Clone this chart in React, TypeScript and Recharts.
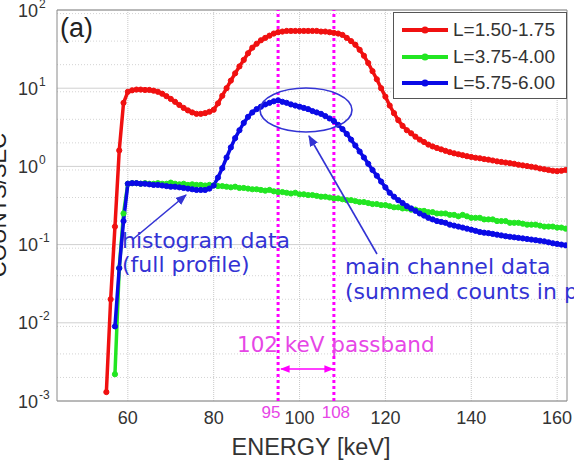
import React from 'react';
import {
  CartesianGrid,
  Legend,
  Line,
  LineChart,
  ReferenceArea,
  ReferenceLine,
  XAxis,
  YAxis,
} from 'recharts';

document.body.style.margin = '0';

const RED = '#f01010';
const GREEN = '#22e622';
const BLUE = '#0a0ae6';
const MAGENTA = '#ff00ff';
const MAGENTA_TEXT = '#e646e6';
const NOTE_BLUE = '#3333d4';
const INK = '#333';

// energy bins (keV)
const ENERGY = [
  55, 56, 57, 58, 59, 60, 61, 62, 63, 64,
  65, 66, 67, 68, 69, 70, 71, 72, 73, 74,
  75, 76, 77, 78, 79, 80, 81, 82, 83, 84,
  85, 86, 87, 88, 89, 90, 91, 92, 93, 94,
  95, 96, 97, 98, 99, 100, 101, 102, 103, 104,
  105, 106, 107, 108, 109, 110, 111, 112, 113, 114,
  115, 116, 117, 118, 119, 120, 121, 122, 123, 124,
  125, 126, 127, 128, 129, 130, 131, 132, 133, 134,
  135, 136, 137, 138, 139, 140, 141, 142, 143, 144,
  145, 146, 147, 148, 149, 150, 151, 152, 153, 154,
  155, 156, 157, 158, 159, 160, 161, 162,
];

// L=1.50-1.75
const L150 = [
  0.0013, 0.02, 0.17, 1.6, 6.5, 9.0, 9.4, 9.6, 9.6, 9.5,
  9.5, 9.3, 9.0, 8.5, 7.9, 7.3, 6.7, 6.1, 5.6, 5.2,
  4.9, 4.7, 4.7, 4.8, 5.0, 5.3, 6.4, 8.0, 10, 12.5,
  15.5, 19, 23, 28, 33, 37, 41, 44, 47, 50,
  52, 53, 54, 54, 54, 54, 54, 54, 54, 54,
  53, 53, 52, 51, 50, 48, 44, 40, 36, 31,
  26, 21, 16.5, 13, 10, 7.8, 6.0, 4.8, 3.9, 3.3,
  2.9, 2.65, 2.4, 2.2, 2.05, 1.9, 1.8, 1.72, 1.65, 1.58,
  1.52, 1.47, 1.43, 1.39, 1.35, 1.32, 1.29, 1.27, 1.24, 1.22,
  1.19, 1.16, 1.14, 1.12, 1.1, 1.08, 1.05, 1.03, 1.01, 0.99,
  0.97, 0.94, 0.92, 0.9, 0.88, 0.87, 0.88, 0.9,
];

// L=3.75-4.00
const L375 = [
  null, null, 0.0022, 0.05, 0.25, 0.6, 0.61, 0.61, 0.6, 0.61,
  0.6, 0.6, 0.61, 0.6, 0.6, 0.62, 0.6, 0.59, 0.6, 0.58,
  0.59, 0.58, 0.58, 0.57, 0.58, 0.57, 0.56, 0.56, 0.55, 0.54,
  0.55, 0.53, 0.53, 0.52, 0.51, 0.51, 0.5, 0.49, 0.5, 0.48,
  0.47, 0.47, 0.46, 0.45, 0.46, 0.44, 0.44, 0.43, 0.43, 0.42,
  0.41, 0.41, 0.4, 0.39, 0.39, 0.38, 0.37, 0.37, 0.36, 0.35,
  0.35, 0.34, 0.33, 0.33, 0.32, 0.32, 0.31, 0.3, 0.3, 0.29,
  0.29, 0.28, 0.28, 0.27, 0.27, 0.26, 0.26, 0.25, 0.25, 0.25,
  0.24, 0.24, 0.23, 0.24, 0.23, 0.22, 0.22, 0.22, 0.21, 0.21,
  0.21, 0.2, 0.2, 0.2, 0.19, 0.19, 0.19, 0.185, 0.18, 0.18,
  0.18, 0.175, 0.17, 0.17, 0.17, 0.165, 0.165, 0.16,
];

// L=5.75-6.00
const L575 = [
  null, null, 0.009, 0.05, 0.2, 0.6, 0.61, 0.61, 0.6, 0.6,
  0.59, 0.58, 0.58, 0.57, 0.56, 0.55, 0.55, 0.54, 0.53, 0.52,
  0.51, 0.5, 0.5, 0.5, 0.52, 0.57, 0.72, 0.95, 1.3, 1.75,
  2.3, 2.9, 3.6, 4.3, 4.9, 5.4, 5.8, 6.2, 6.5, 6.8,
  7.0, 6.7, 6.5, 6.2, 6.0, 5.8, 5.6, 5.4, 5.1, 4.9,
  4.7, 4.4, 4.1, 3.8, 3.4, 3.0, 2.6, 2.2, 1.85, 1.55,
  1.3, 1.08, 0.9, 0.76, 0.64, 0.54, 0.46, 0.41, 0.37, 0.34,
  0.31, 0.29, 0.27, 0.25, 0.235, 0.22, 0.21, 0.2, 0.195, 0.19,
  0.18, 0.175, 0.17, 0.165, 0.16, 0.155, 0.15, 0.145, 0.142, 0.14,
  0.137, 0.134, 0.131, 0.128, 0.126, 0.124, 0.122, 0.12, 0.118, 0.116,
  0.114, 0.112, 0.11, 0.107, 0.104, 0.102, 0.1, 0.098,
];

const X_TICKS = [60, 80, 100, 120, 140, 160];
const Y_TICKS = [0.001, 0.01, 0.1, 1, 10, 100];
const Y_MINOR = [
  0.002, 0.003, 0.004, 0.005, 0.006, 0.007, 0.008, 0.009,
  0.02, 0.03, 0.04, 0.05, 0.06, 0.07, 0.08, 0.09,
  0.2, 0.3, 0.4, 0.5, 0.6, 0.7, 0.8, 0.9,
  2, 3, 4, 5, 6, 7, 8, 9,
  20, 30, 40, 50, 60, 70, 80, 90,
];
const PASSBAND = [95, 108];

const SERIES = [
  { key: 'l150', name: 'L=1.50-1.75', color: RED },
  { key: 'l375', name: 'L=3.75-4.00', color: GREEN },
  { key: 'l575', name: 'L=5.75-6.00', color: BLUE },
];

const data = ENERGY.map((e, i) => ({ energy: e, l150: L150[i], l375: L375[i], l575: L575[i] }));

const X_DOMAIN = [43.5, 162.3];
const Y_DOMAIN = [0.001, 100];

const XTick = ({ x, y, payload }: any) => (
  <text x={x} y={y + 23} textAnchor="middle" fontSize={18} fill={INK} fontFamily="Liberation Sans">
    {payload.value}
  </text>
);

const YTick = ({ x, y, payload }: any) => {
  const exp = Math.round(Math.log10(payload.value));
  return (
    <text x={x - 39} y={y + 6.5} fontSize={18} fill={INK} fontFamily="Liberation Sans">
      10
      <tspan dx={1} dy={-9} fontSize={12}>{exp}</tspan>
    </text>
  );
};

const passLabel = (value: string, dx: number) => (props: any) => {
  const vb = props.viewBox;
  return (
    <text x={vb.x + dx} y={vb.y + vb.height + 17} textAnchor="middle" fontSize={17} fill={MAGENTA_TEXT} fontFamily="Liberation Sans">
      {value}
    </text>
  );
};

const LegendBox = () => (
  <div
    style={{
      width: 174,
      height: 87,
      boxSizing: 'border-box',
      border: '1px solid #555',
      background: '#fff',
      paddingTop: 4,
      fontFamily: 'Liberation Sans',
      fontSize: 19,
      color: INK,
    }}
  >
    {SERIES.map((s) => (
      <div key={s.key} style={{ display: 'flex', alignItems: 'center', height: 26.5, paddingLeft: 8 }}>
        <svg width={46} height={12} style={{ marginRight: 5 }}>
          <line x1={0} y1={6} x2={46} y2={6} stroke={s.color} strokeWidth={4} />
          <circle cx={23} cy={6} r={3.5} fill={s.color} />
        </svg>
        <span>{s.name}</span>
      </div>
    ))}
  </div>
);

export default function App() {
  return (
    <div style={{ position: 'relative', width: 574, height: 463, overflow: 'hidden', background: '#fff' }}>
      <LineChart width={574} height={463} data={data} margin={{ top: 10, right: 7, left: 0, bottom: 0 }}>
        <CartesianGrid vertical={false} horizontalValues={Y_MINOR} stroke="#d4d4d4" strokeDasharray="1 2" />
        <CartesianGrid vertical={false} horizontalValues={Y_TICKS} stroke="#d0d0d0" />
        <CartesianGrid horizontal={false} verticalValues={X_TICKS} stroke="#c8c8c8" strokeDasharray="1 1" />
        <XAxis
          dataKey="energy"
          type="number"
          domain={X_DOMAIN}
          ticks={X_TICKS}
          allowDataOverflow
          height={62}
          tickSize={0}
          tickMargin={0}
          axisLine={false}
          tick={<XTick />}
        />
        <YAxis
          type="number"
          scale="log"
          domain={Y_DOMAIN}
          ticks={Y_TICKS}
          allowDataOverflow
          width={57}
          tickSize={0}
          tickMargin={0}
          axisLine={false}
          tick={<YTick />}
        />
        <ReferenceArea
          x1={X_DOMAIN[0]}
          x2={X_DOMAIN[1]}
          y1={Y_DOMAIN[0]}
          y2={Y_DOMAIN[1]}
          fill="none"
          stroke="#8a8a8a"
          strokeWidth={1}
          ifOverflow="visible"
        />
        {SERIES.map((s) => (
          <Line
            key={s.key}
            dataKey={s.key}
            name={s.name}
            type="linear"
            stroke={s.color}
            strokeWidth={3.5}
            dot={{ r: 2.6, fill: s.color, stroke: s.color, strokeWidth: 1 }}
            isAnimationActive={false}
          />
        ))}
        <ReferenceLine
          x={PASSBAND[0]}
          stroke={MAGENTA}
          strokeWidth={3}
          strokeDasharray="3 3"
          label={passLabel('95', -7)}
        />
        <ReferenceLine
          x={PASSBAND[1]}
          stroke={MAGENTA}
          strokeWidth={3}
          strokeDasharray="3 3"
          label={passLabel('108', 2)}
        />
        <Legend
          layout="horizontal"
          verticalAlign="middle"
          content={<LegendBox />}
          wrapperStyle={{ left: 393, top: 12, width: 174, height: 87 }}
        />
      </LineChart>

      {/* annotations drawn on top of the plot */}
      <svg
        width={574}
        height={463}
        style={{ position: 'absolute', left: 0, top: 0, pointerEvents: 'none' }}
      >
        <defs>
          <marker id="headBlue" viewBox="0 0 10 10" refX="9" refY="5" markerWidth="7" markerHeight="7" orient="auto">
            <path d="M0,1 L10,5 L0,9 z" fill={NOTE_BLUE} />
          </marker>
          <marker id="headPink" viewBox="0 0 10 10" refX="9" refY="5" markerWidth="6" markerHeight="6" orient="auto-start-reverse">
            <path d="M0,1 L10,5 L0,9 z" fill={MAGENTA} />
          </marker>
        </defs>
        <text x={60} y={37} fontSize={27} fill="#222" fontFamily="Liberation Sans">(a)</text>
        <text
          x={6}
          y={205}
          transform="rotate(-90 6 205)"
          textAnchor="middle"
          fontSize={22}
          fill="#222"
          fontFamily="Liberation Sans"
        >
          COUNTS/SEC
        </text>
        <text x={311} y={455} textAnchor="middle" fontSize={23.5} fill="#333" fontFamily="Liberation Sans">
          ENERGY [keV]
        </text>

        <ellipse cx={306} cy={110} rx={46} ry={22} fill="none" stroke={NOTE_BLUE} strokeWidth={1.6} />
        <line x1={132} y1={240} x2={186} y2={195} stroke={NOTE_BLUE} strokeWidth={1.6} markerEnd="url(#headBlue)" />
        <line x1={377} y1={254} x2={309} y2={136} stroke={NOTE_BLUE} strokeWidth={1.6} markerEnd="url(#headBlue)" />

        <g fontFamily="DejaVu Sans" fontSize={22} fill={NOTE_BLUE}>
          <text x={122} y={248}>histogram data</text>
          <text x={122} y={272}>(full profile)</text>
          <text x={345} y={274}>main channel data</text>
          <text x={345} y={299}>(summed counts in passband)</text>
        </g>

        <text x={237} y={352} fontFamily="DejaVu Sans" fontSize={21.5} fill={MAGENTA_TEXT}>
          102 keV passband
        </text>
        <line
          x1={281}
          y1={369}
          x2={333}
          y2={369}
          stroke={MAGENTA}
          strokeWidth={1.6}
          markerStart="url(#headPink)"
          markerEnd="url(#headPink)"
        />
      </svg>
    </div>
  );
}
